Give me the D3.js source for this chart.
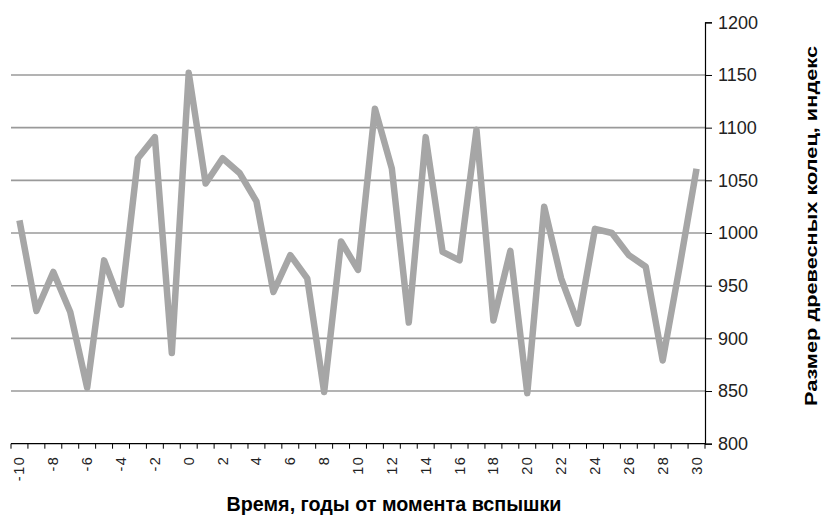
<!DOCTYPE html>
<html>
<head>
<meta charset="utf-8">
<script src="https://cdn.jsdelivr.net/npm/d3@7"></script>
<style>
  body { margin: 0; background: #fff; }
  svg { display: block; font-family: "Liberation Sans", Arial, sans-serif; }
</style>
</head>
<body>
<svg id="chart" width="824" height="528"></svg>
<script>
// years relative to the outbreak
const years = d3.range(-10, 31);
// tree ring size index
const ringIndex = [
  1012, 926, 963, 925, 853, 974, 932, 1071, 1091, 886,
  1152, 1047, 1071, 1057, 1030, 944, 979, 957, 849, 992,
  965, 1118, 1061, 915, 1091, 982, 974, 1098, 917, 983,
  848, 1025, 957, 914, 1004, 1000, 979, 968, 879, 968,
  1061
];
const yTicks = [800, 850, 900, 950, 1000, 1050, 1100, 1150, 1200];
const xTickLabels = years.filter(d => d % 2 === 0);

const svg = d3.select('#chart');
const plot = { left: 11, right: 705, top: 22.3, bottom: 443.7 };

const x = d3.scaleBand().domain(years).range([plot.left, plot.right]);
const y = d3.scaleLinear().domain([800, 1200]).range([plot.bottom, plot.top]);

// горизонтальная сетка
svg.append('g')
  .selectAll('line')
  .data(yTicks.filter(d => d > 800 && d < 1200))
  .enter().append('line')
  .attr('x1', plot.left).attr('x2', plot.right)
  .attr('y1', d => y(d)).attr('y2', d => y(d))
  .attr('stroke', '#9a9a9a')
  .attr('stroke-width', 1.6);

// линия ряда
const line = d3.line()
  .x((d, i) => x(years[i]) + x.bandwidth() / 2)
  .y(d => y(d));

svg.append('path')
  .datum(ringIndex)
  .attr('d', line)
  .attr('fill', 'none')
  .attr('stroke', '#a6a6a6')
  .attr('stroke-width', 6.5)
  .attr('stroke-linejoin', 'round');

// ось X (деления между категориями)
const xAxis = svg.append('g');
xAxis.append('line')
  .attr('x1', plot.left).attr('x2', plot.right)
  .attr('y1', plot.bottom).attr('y2', plot.bottom)
  .attr('stroke', '#000').attr('stroke-width', 1.2);
xAxis.selectAll('.xt')
  .data(years.concat([31]))
  .enter().append('line')
  .attr('x1', (d, i) => plot.left + i * x.step())
  .attr('x2', (d, i) => plot.left + i * x.step())
  .attr('y1', plot.bottom).attr('y2', plot.bottom + 5)
  .attr('stroke', '#000');
xAxis.selectAll('.xl')
  .data(xTickLabels)
  .enter().append('text')
  .attr('transform', d => `translate(${x(d) + x.bandwidth() / 2 + 5},${plot.bottom + 12}) rotate(-90)`)
  .attr('text-anchor', 'end')
  .attr('font-size', 14.5)
  .attr('letter-spacing', 1.5)
  .attr('fill', '#222')
  .text(d => d);

// ось Y справа
const yAxis = d3.axisRight(y).tickValues(yTicks).tickFormat(d3.format('d'))
  .tickSize(7).tickPadding(6);
svg.append('g')
  .attr('transform', `translate(${plot.right},0)`)
  .call(yAxis)
  .call(g => g.select('.domain').attr('stroke', '#000').attr('stroke-width', 1.2))
  .call(g => g.selectAll('.tick line').attr('stroke', '#000'))
  .call(g => g.selectAll('.tick text')
    .attr('font-size', 18).attr('fill', '#222')
    .attr('font-family', '"Liberation Sans", Arial, sans-serif'));

// подписи осей
svg.append('text')
  .attr('x', 394).attr('y', 511)
  .attr('text-anchor', 'middle')
  .attr('font-size', 21).attr('font-weight', 'bold')
  .attr('textLength', 335).attr('lengthAdjust', 'spacingAndGlyphs')
  .text('Время, годы от момента вспышки');

svg.append('text')
  .attr('transform', 'translate(817,226) rotate(-90)')
  .attr('text-anchor', 'middle')
  .attr('font-size', 16.5).attr('font-weight', 'bold')
  .attr('textLength', 360).attr('lengthAdjust', 'spacingAndGlyphs')
  .text('Размер древесных колец, индекс');
</script>
</body>
</html>
